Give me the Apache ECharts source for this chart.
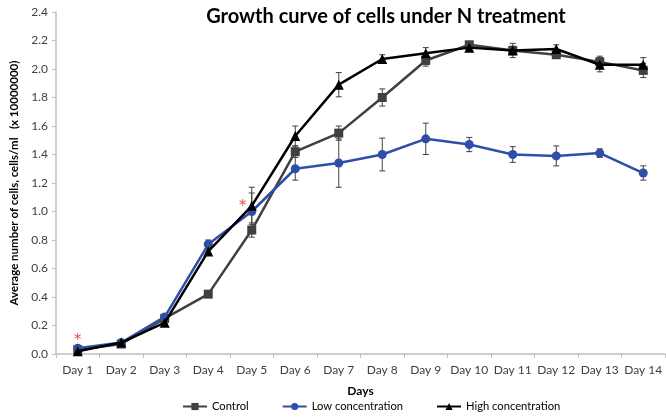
<!DOCTYPE html>
<html>
<head>
<meta charset="utf-8">
<script src="https://cdn.jsdelivr.net/npm/echarts@6/dist/echarts.min.js"></script>
<style>html,body{margin:0;padding:0;background:#fff}#c{width:666px;height:418px}</style>
</head>
<body>
<div id="c"></div>
<script>
const days = ['Day 1','Day 2','Day 3','Day 4','Day 5','Day 6','Day 7','Day 8','Day 9','Day 10','Day 11','Day 12','Day 13','Day 14'];
const control = [0.03,0.07,0.25,0.42,0.87,1.42,1.55,1.80,2.06,2.17,2.13,2.10,2.05,1.99];
const controlErr = [0.01,0.01,0.01,0.01,0.05,0.04,0.05,0.06,0.04,0.01,0.03,0.02,0.04,0.05];
const low = [0.04,0.08,0.26,0.77,1.00,1.30,1.34,1.40,1.51,1.47,1.40,1.39,1.41,1.27];
const lowErr = [0.01,0.01,0.01,0.03,0.13,0.08,0.17,0.115,0.11,0.05,0.055,0.07,0.03,0.05];
const high = [0.02,0.08,0.22,0.72,1.04,1.53,1.89,2.07,2.11,2.15,2.13,2.14,2.03,2.03];
const highErr = [0.01,0.01,0.01,0.02,0.13,0.07,0.085,0.03,0.04,0.02,0.05,0.03,0.05,0.05];
const starDays = ['Day 1','Day 5'];
const starValues = [0.11,1.05];

function errData(vals, errs){ return vals.map((v,i)=>[i, v-errs[i], v+errs[i]]); }
function errSeries(vals, errs){
  return {
    type:'custom', silent:true, z:1,
    data: errData(vals, errs),
    renderItem: function(params, api){
      const x = api.value(0);
      const lo = api.coord([x, api.value(1)]);
      const hi = api.coord([x, api.value(2)]);
      const w = 3;
      const st = {stroke:'#404040', lineWidth:1};
      return {type:'group', children:[
        {type:'line', shape:{x1:lo[0],y1:lo[1],x2:hi[0],y2:hi[1]}, style:st},
        {type:'line', shape:{x1:lo[0]-w,y1:lo[1],x2:lo[0]+w,y2:lo[1]}, style:st},
        {type:'line', shape:{x1:hi[0]-w,y1:hi[1],x2:hi[0]+w,y2:hi[1]}, style:st}
      ]};
    }
  };
}
const chart = echarts.init(document.getElementById('c'));
const font = 'Lato, "Open Sans", sans-serif';
chart.setOption({
  animation:false,
  textStyle:{fontFamily:font},
  title:{text:'Growth curve of cells under N treatment', left:381, textAlign:'center', top:2,
    textStyle:{fontSize:20, fontWeight:'bold', color:'#000', fontFamily:font}},
  grid:{left:46, right:1, top:12, bottom:64},
  legend:{bottom:1, left:177, itemGap:33, itemWidth:24, itemHeight:9,
    data:['Control','Low concentration','High concentration'],
    textStyle:{fontSize:11.2, color:'#000', fontFamily:font}},
  xAxis:{type:'category', data:days, boundaryGap:true,
    name:'Days', nameLocation:'middle', nameGap:31,
    nameTextStyle:{fontWeight:'bold', fontSize:12, color:'#000'},
    axisLine:{lineStyle:{color:'#BFBFBF', width:1.5}},
    axisTick:{show:true, interval:0, alignWithLabel:false, length:4, lineStyle:{color:'#BFBFBF'}},
    axisLabel:{interval:0, fontSize:12, color:'#404040', margin:10}},
  yAxis:{type:'value', min:0, max:2.4, interval:0.2,
    name:'Average number of cells, cells/ml   (x 10000000)', nameLocation:'middle', nameGap:36,
    nameTextStyle:{fontWeight:'bold', fontSize:11.5, color:'#000'},
    axisLine:{show:true, lineStyle:{color:'#BFBFBF', width:1.5}},
    axisTick:{show:true, length:4, lineStyle:{color:'#BFBFBF'}},
    splitLine:{show:false},
    axisLabel:{fontSize:12, color:'#404040', margin:8, formatter:v=>v.toFixed(1)}},
  series:[
    errSeries(control, controlErr),
    errSeries(low, lowErr),
    errSeries(high, highErr),
    {name:'Control', type:'line', data:control, symbol:'rect', symbolSize:9, z:3,
      lineStyle:{color:'#404040', width:2.5}, itemStyle:{color:'#404040'}},
    {name:'Low concentration', type:'line', data:low, symbol:'circle', symbolSize:9, z:4,
      lineStyle:{color:'#2F4EA8', width:2.5}, itemStyle:{color:'#2F4EA8'}},
    {name:'High concentration', type:'line', data:high, symbol:'triangle', symbolSize:10, z:5,
      lineStyle:{color:'#000000', width:2.5}, itemStyle:{color:'#000000'}},
    {type:'scatter', silent:true, z:6, symbolSize:1, itemStyle:{color:'rgba(0,0,0,0)'},
      data: starDays.map((d,i)=>({value:[d, starValues[i]], label:{offset: i===1?[-9,4]:[0,4]}})),
      label:{show:true, formatter:'*', position:'inside', color:'#E8312F', fontSize:22}}
  ]
});
</script>
</body>
</html>
